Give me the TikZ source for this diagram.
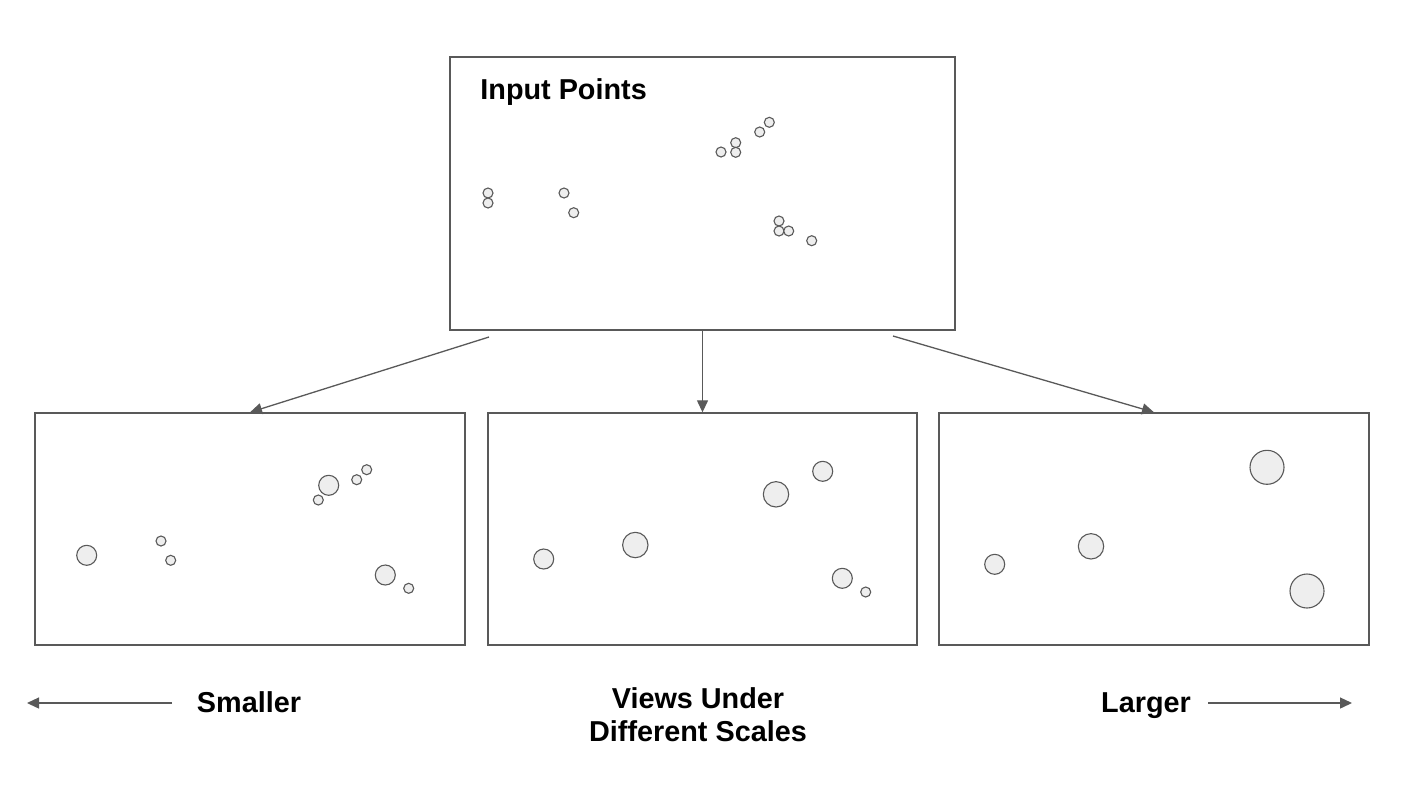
\documentclass[tikz,border=0pt]{standalone}
\usepackage{fontspec}
\setmainfont{Liberation Sans}
\usetikzlibrary{arrows.meta}
\definecolor{ln}{HTML}{595959}
\definecolor{pf}{HTML}{EEEEEE}
\tikzset{
  panel/.style={draw=ln, line width=0.7pt, fill=white, rectangle, inner sep=0pt},
  pt/.style={draw=ln, fill=pf, circle, inner sep=0pt, line width=0.55pt, minimum size=#1},
  conn/.style={draw=ln, line width=0.65pt, -{Triangle[length=6pt,width=5.5pt]}},
  lbl/.style={font=\bfseries\fontsize{14.4}{17}\selectfont, text=black, inner sep=0pt}
}
\begin{document}
\begin{tikzpicture}[x=0.5pt,y=-0.5pt]
\useasboundingbox (0,0) rectangle (1422,788);
% panels
\node[panel, minimum width=252.5pt, minimum height=136.5pt] (top) at (702.5,193.5) {};
\node[panel, minimum width=215pt, minimum height=116pt] (lb) at (250,529) {};
\node[panel, minimum width=214.5pt, minimum height=116pt] (mb) at (702.5,529) {};
\node[panel, minimum width=215pt, minimum height=116pt] (rb) at (1154,529) {};
\node[lbl, anchor=base west] (title) at (480,99.3) {Input Points};
% top points
\foreach \n/\x/\y in {t1/488/193, t2/488/203, t3/564/193, t4/573.7/212.7, t5/721/152, t6/735.7/142.7, t7/735.7/152.3, t8/759.7/132, t9/769.3/122.3, t10/779/221, t11/779/231, t12/788.7/231, t13/811.7/240.7}
  \node[pt=5pt] (\n) at (\x,\y) {};
% left panel points
\foreach \n/\x/\y/\d in {l1/86.7/555.3/10pt, l2/161/541/5pt, l3/170.7/560.3/5pt, l4/328.7/485.3/10pt, l5/318.3/500/5pt, l6/356.7/479.7/5pt, l7/366.7/469.7/5pt, l8/385.3/575/10pt, l9/408.7/588.3/5pt}
  \node[pt=\d] (\n) at (\x,\y) {};
% middle panel points
\foreach \n/\x/\y/\d in {m1/543.7/559/10pt, m2/635.3/545/12.7pt, m3/776/494.3/12.7pt, m4/822.7/471.3/10pt, m5/842.3/578.3/10pt, m6/865.7/592/5pt}
  \node[pt=\d] (\n) at (\x,\y) {};
% right panel points
\foreach \n/\x/\y/\d in {r1/994.7/564.3/10pt, r2/1091/546.3/12.7pt, r3/1267/467.3/17pt, r4/1307/591/17pt}
  \node[pt=\d] (\n) at (\x,\y) {};
% connectors
\coordinate (sl) at (489,337);
\coordinate (sr) at (893,336);
\draw[conn] (sl) -- (lb.north);
\draw[conn] (top.south) -- (mb.north);
\draw[conn] (sr) -- (rb.north);
% bottom labels
\node[lbl, anchor=base] (small) at (249,712.3) {Smaller};
\node[lbl, anchor=base] (views) at (698,708.3) {Views Under};
\node[lbl, anchor=base] (diff) at (698,741.7) {Different Scales};
\node[lbl, anchor=base] (large) at (1146,712.3) {Larger};
\coordinate (als) at (172,703);
\coordinate (ale) at (27,703);
\coordinate (ars) at (1208,703);
\coordinate (are) at (1352,703);
\draw[conn] (als) -- (ale);
\draw[conn] (ars) -- (are);
\end{tikzpicture}
\end{document}
